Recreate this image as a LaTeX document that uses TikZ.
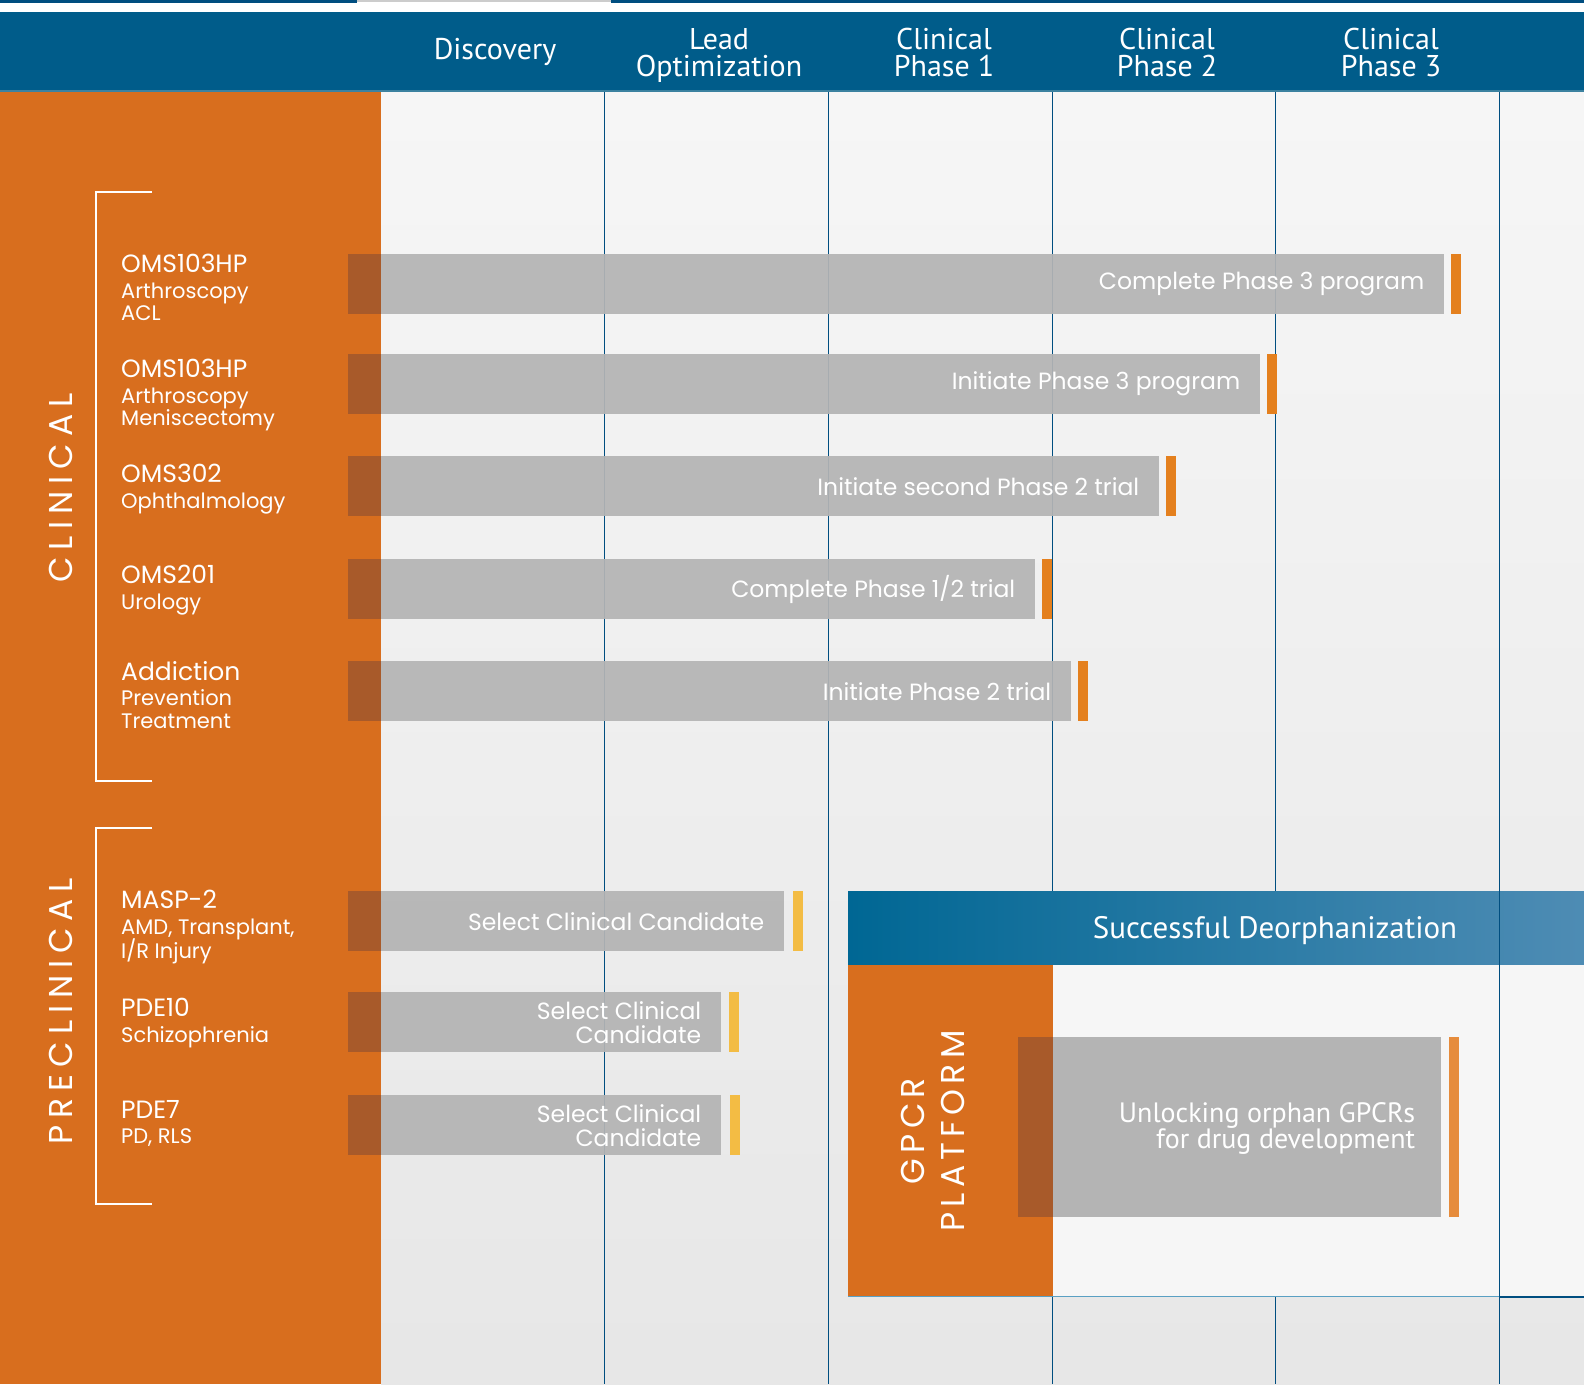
\documentclass[tikz,border=0pt]{standalone}
\usepackage{xcolor}
\usepackage{fontspec}
\usepackage{tikz}
\usetikzlibrary{positioning,calc}
\setmainfont{Poppins}
\newfontfamily\narrowfont{PT Sans}
\newfontfamily\spacedfont[LetterSpace=21]{Poppins}
\newfontfamily\platformfont[LetterSpace=16]{Poppins}

\definecolor{hdrblue}{RGB}{0,92,138}
\definecolor{linblue}{RGB}{0,78,128}
\definecolor{orangecol}{RGB}{216,110,30}
\definecolor{brownov}{RGB}{168,90,42}
\definecolor{bargray}{RGB}{180,180,180}
\definecolor{tickorange}{RGB}{228,128,30}
\definecolor{tickyellow}{RGB}{243,188,68}
\definecolor{gpcrdark}{RGB}{0,103,148}
\definecolor{gpcrlight}{RGB}{78,140,180}
\definecolor{panelwhite}{RGB}{246,246,246}

\newcommand{\pname}[1]{{\fontsize{25}{27}\selectfont #1}}

\begin{document}
\begin{tikzpicture}[
  x=1pt, y=-1pt,
  hdr/.style={font=\narrowfont\fontsize{30}{27}\selectfont, text=white, align=center, inner sep=0pt},
  item/.style={font=\fontsize{21}{22.5}\selectfont, text=white, align=left, anchor=north west, inner sep=0pt},
  bar/.style={fill=bargray, fill opacity=0.93, anchor=north west, minimum height=60pt, inner sep=0pt},
  bartext/.style={font=\fontsize{23.5}{24}\selectfont, text=white, anchor=east, align=right, inner sep=0pt},
  tickbox/.style={anchor=north west, minimum width=10pt, minimum height=60pt, inner sep=0pt},
  section/.style={font=\spacedfont\fontsize{33}{40}\selectfont, text=white, rotate=90, align=center, inner sep=0pt}
]
\useasboundingbox (0,0) rectangle (1584,1384);

% background
\shade[top color=gray!7, bottom color=gray!19] (381,92) rectangle (1584,1384);
\fill[orangecol] (0,92) rectangle (381,1384);

% top strip and header
\fill[white] (0,0) rectangle (1584,12);
\fill[linblue] (0,0) rectangle (357,3);
\fill[gray!40] (357,0) rectangle (611,2);
\fill[linblue] (611,0) rectangle (1584,3);
\fill[hdrblue] (0,12) rectangle (1584,92);
\draw[color={rgb,255:red,60;green,130;blue,160}, line width=1.5pt] (0,91) -- (1584,91);

\node[hdr] (disc) at (495,52) {Discovery};
\node[hdr] (lead) at (719,55) {Lead\\Optimization};
\node[hdr] (ph1) at (944,52) {Clinical\\Phase 1};
\node[hdr] (ph2) at (1167,52) {Clinical\\Phase 2};
\node[hdr] (ph3) at (1391,52) {Clinical\\Phase 3};

% column lines
\foreach \cx in {604,828,1052,1275,1499}
  \draw[linblue, line width=1pt] (\cx,92) -- (\cx,1384);

% brackets
\draw[white, line width=1.2pt] (152,192) -- (96,192) -- (96,781) -- (152,781);
\draw[white, line width=1.2pt] (152,828) -- (96,828) -- (96,1204) -- (152,1204);
\node[section] (clin) at (61,488) {CLINICAL};
\node[section] (preclin) at (61,1011) {PRECLINICAL};

% programme labels
\node[item] (oms1) at (121,254) {\pname{OMS103HP}\\[3pt]Arthroscopy\\ACL};
\node[item] (oms2) at (121,359) {\pname{OMS103HP}\\[3pt]Arthroscopy\\Meniscectomy};
\node[item] (oms3) at (121,464) {\pname{OMS302}\\[3pt]Ophthalmology};
\node[item] (oms4) at (121,565) {\pname{OMS201}\\[3pt]Urology};
\node[item] (addic) at (121,661) {\pname{Addiction}\\[3pt]Prevention\\Treatment};
\node[item] (masp) at (121,890) {\pname{MASP-2}\\[3pt]AMD, Transplant,\\[-2pt]I/R Injury};
\node[item] (pde10) at (121,998) {\pname{PDE10}\\[3pt]Schizophrenia};
\node[item] (pde7) at (121,1100) {\pname{PDE7}\\[3pt]PD, RLS};

% clinical bars
\node[bar, minimum width=1096pt] (bar1) at (348,254) {};
\fill[brownov] (bar1.north west) rectangle ($(bar1.south west)+(33,0)$);
\node[bartext] (txt1) at ($(bar1.east)+(-20,0)$) {Complete Phase 3 program};
\node[tickbox, fill=tickorange, right=6pt of bar1.north east, anchor=north west] (tick1) {};

\node[bar, minimum width=912pt] (bar2) at (348,354) {};
\fill[brownov] (bar2.north west) rectangle ($(bar2.south west)+(33,0)$);
\node[bartext] (txt2) at ($(bar2.east)+(-20,0)$) {Initiate Phase 3 program};
\node[tickbox, fill=tickorange, right=6pt of bar2.north east, anchor=north west] (tick2) {};

\node[bar, minimum width=811pt] (bar3) at (348,456) {};
\fill[brownov] (bar3.north west) rectangle ($(bar3.south west)+(33,0)$);
\node[bartext] (txt3) at ($(bar3.east)+(-20,0)$) {Initiate second Phase 2 trial};
\node[tickbox, fill=tickorange, right=6pt of bar3.north east, anchor=north west] (tick3) {};

\node[bar, minimum width=687pt] (bar4) at (348,559) {};
\fill[brownov] (bar4.north west) rectangle ($(bar4.south west)+(33,0)$);
\node[bartext] (txt4) at ($(bar4.east)+(-20,0)$) {Complete Phase 1/2 trial};
\node[tickbox, fill=tickorange, right=6pt of bar4.north east, anchor=north west] (tick4) {};

\node[bar, minimum width=723pt] (bar5) at (348,661) {};
\fill[brownov] (bar5.north west) rectangle ($(bar5.south west)+(33,0)$);
\node[bartext] (txt5) at ($(bar5.east)+(-20,0)$) {Initiate Phase 2 trial};
\node[tickbox, fill=tickorange, right=6pt of bar5.north east, anchor=north west] (tick5) {};

% preclinical bars
\node[bar, minimum width=436pt] (bar6) at (348,891) {};
\fill[brownov] (bar6.north west) rectangle ($(bar6.south west)+(33,0)$);
\node[bartext] (txt6) at ($(bar6.east)+(-20,0)$) {Select Clinical Candidate};
\node[tickbox, fill=tickyellow, right=8pt of bar6.north east, anchor=north west] (tick6) {};

\node[bar, minimum width=373pt] (bar7) at (348,992) {};
\fill[brownov] (bar7.north west) rectangle ($(bar7.south west)+(33,0)$);
\node[bartext] (txt7) at ($(bar7.east)+(-20,0)$) {Select Clinical\\Candidate};
\node[tickbox, fill=tickyellow, right=7pt of bar7.north east, anchor=north west] (tick7) {};

\node[bar, minimum width=373pt] (bar8) at (348,1095) {};
\fill[brownov] (bar8.north west) rectangle ($(bar8.south west)+(33,0)$);
\node[bartext] (txt8) at ($(bar8.east)+(-20,0)$) {Select Clinical\\Candidate};
\node[tickbox, fill=tickyellow, right=8pt of bar8.north east, anchor=north west] (tick8) {};

% GPCR platform
\shade[left color=gpcrdark, right color=gpcrlight] (848,891) rectangle (1584,965);
\node[font=\narrowfont\fontsize{31}{30}\selectfont, text=white, inner sep=0pt] (deorph) at (1275,931) {Successful Deorphanization};
\fill[orangecol] (848,965) rectangle (1053,1296);
\fill[panelwhite] (1053,965) rectangle (1584,1296);
\draw[linblue, line width=1pt] (1499,891) -- (1499,1296);
\draw[color={rgb,255:red,90;green,160;blue,195}, line width=1pt] (848,1296) -- (1499,1296);
\draw[linblue, line width=2.5pt] (1499,1297) -- (1584,1297);
\node[section, font=\platformfont\fontsize{33}{40}\selectfont] (gpcr) at (933,1131) {GPCR\\PLATFORM};

\node[bar, minimum width=423pt, minimum height=180pt, fill opacity=1] (gbox) at (1018,1037) {};
\fill[brownov] (gbox.north west) rectangle ($(gbox.south west)+(35,0)$);
\node[font=\narrowfont\fontsize{28}{26}\selectfont, text=white, anchor=east, align=right, inner sep=0pt] (unlock) at ($(gbox.east)+(-26,1)$) {Unlocking orphan GPCRs\\for drug development};
\node[tickbox, minimum height=180pt, fill={rgb,255:red,230;green,140;blue,60}, right=7pt of gbox.north east, anchor=north west] (tick9) {};

\end{tikzpicture}
\end{document}
